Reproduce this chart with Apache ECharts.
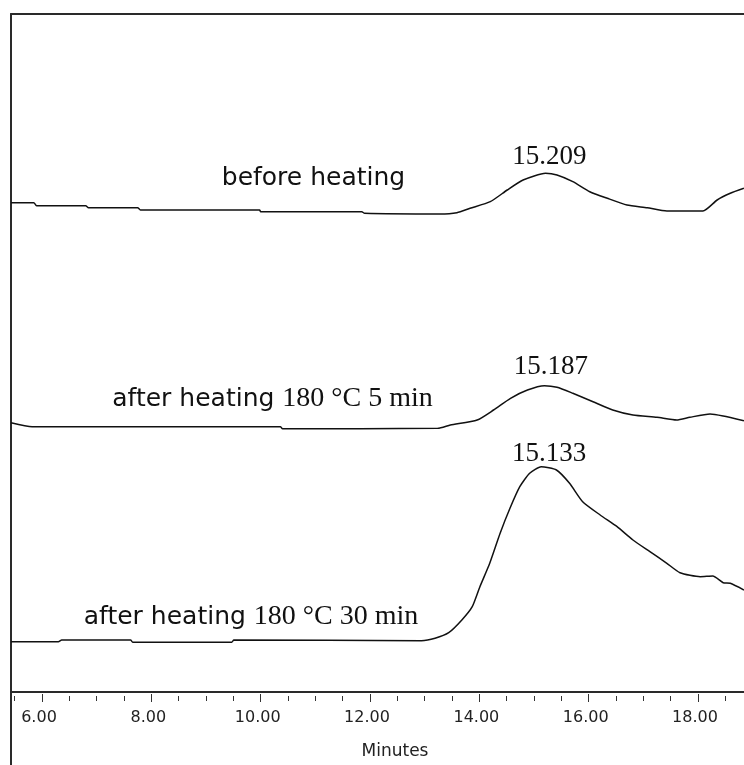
<!DOCTYPE html>
<html>
<head>
<meta charset="utf-8">
<script src="https://cdn.jsdelivr.net/npm/echarts@6/dist/echarts.min.js"></script>
<style>
  html, body { margin: 0; padding: 0; background: #fff; }
  #main { width: 744px; height: 765px; }
</style>
</head>
<body>
<div id="main"></div>
<script>
// retention time window (min)
var xMin = 5.433, xMax = 18.841;
var majorTicks = [6, 8, 10, 12, 14, 16, 18];
var minorTicks = [5.5, 6, 6.5, 7, 7.5, 8, 8.5, 9, 9.5, 10, 10.5, 11, 11.5, 12, 12.5,
                  13, 13.5, 14, 14.5, 15, 15.5, 16, 16.5, 17, 17.5, 18, 18.5];

// before heating
var beforeTime   = [5.433, 5.85, 5.90, 6.80, 6.85, 7.75, 7.80, 9.98, 10.00, 11.85, 11.90, 13.28, 13.59, 13.83, 14.20, 14.51, 14.80, 15.21, 15.42, 15.71, 16.02, 16.34, 16.70, 17.07, 17.43, 18.09, 18.35, 18.59, 18.84];
var beforeSignal = [489.3, 489.3, 486.3, 486.3, 484.3, 484.3, 482.0, 482.0, 480.3, 480.3, 478.7, 478.0, 479.3, 483.7, 490.3, 502.0, 512.0, 518.7, 517.0, 510.3, 500.3, 493.7, 487.0, 484.3, 481.0, 481.0, 492.0, 498.7, 503.7];

// after heating 180 °C 5 min
var heat5Time   = [5.433, 5.82, 10.36, 10.40, 13.24, 13.47, 13.96, 14.26, 14.57, 14.88, 15.19, 15.42, 15.71, 16.08, 16.44, 16.81, 17.25, 17.61, 17.85, 18.22, 18.46, 18.84];
var heat5Signal = [269.3, 265.3, 265.3, 263.3, 263.7, 267.0, 272.0, 282.0, 293.7, 302.0, 306.3, 304.7, 298.7, 290.3, 282.0, 277.0, 274.7, 272.0, 274.7, 278.0, 276.0, 271.3];

// after heating 180 °C 30 min
var heat30Time   = [5.433, 6.30, 6.36, 7.62, 7.66, 9.47, 9.51, 12.94, 13.19, 13.44, 13.68, 13.87, 14.01, 14.19, 14.38, 14.56, 14.74, 14.92, 15.13, 15.41, 15.65, 15.89, 16.21, 16.52, 16.81, 17.12, 17.43, 17.67, 18.04, 18.27, 18.46, 18.59, 18.84];
var heat30Signal = [50.3, 50.3, 52.0, 52.0, 49.7, 49.7, 52.0, 51.3, 53.7, 59.3, 72.0, 85.3, 105.3, 128.7, 158.7, 183.7, 205.3, 218.7, 225.3, 222.0, 208.7, 190.3, 177.0, 165.3, 152.0, 140.3, 128.7, 119.3, 115.3, 116.0, 109.3, 108.7, 102.0];

function pairs(t, v) {
  return t.map(function (x, i) { return [x, v[i]]; });
}

var sans = 'DejaVu Sans';
var serif = 'Liberation Serif';
var inkColor = '#111';
var frameStyle = { color: '#2a2a2a', width: 2 };

function note(coord, text) {
  return { coord: coord, value: 0, label: { formatter: text } };
}

function traceSeries(data, notes) {
  return {
    type: 'line',
    xAxisIndex: 0,
    yAxisIndex: 0,
    data: data,
    symbol: 'none',
    smooth: 0.2,
    lineStyle: { color: inkColor, width: 1.5 },
    markPoint: {
      symbol: 'circle',
      symbolSize: 1,
      itemStyle: { color: 'transparent' },
      label: {
        show: true,
        position: 'inside',
        color: inkColor,
        fontFamily: sans,
        fontSize: 25,
        rich: {
          s: { fontFamily: sans, fontSize: 25, color: inkColor },
          r: { fontFamily: serif, fontSize: 28, color: inkColor },
          p: { fontFamily: serif, fontSize: 27, color: inkColor }
        }
      },
      data: notes
    }
  };
}

var chart = echarts.init(document.getElementById('main'));

var option = {
  animation: false,
  backgroundColor: '#fff',
  grid: [
    { left: 11, right: 0, top: 14, bottom: 0 },
    { left: 11, right: 0, top: 14, bottom: 69 },
    { left: 11, right: 0, top: 14, bottom: 69 }
  ],
  xAxis: [
    {
      gridIndex: 0, type: 'value', min: xMin, max: xMax, position: 'bottom',
      axisLine: { show: true, onZero: true, lineStyle: frameStyle },
      axisTick: { show: false }, axisLabel: { show: false }, splitLine: { show: false }
    },
    {
      gridIndex: 0, type: 'value', min: xMin, max: xMax, position: 'top',
      axisLine: { show: true, onZero: false, lineStyle: frameStyle },
      axisTick: { show: false }, axisLabel: { show: false }, splitLine: { show: false }
    },
    {
      gridIndex: 1, type: 'value', min: xMin, max: xMax, position: 'bottom',
      axisLine: { show: false, onZero: false },
      axisTick: { show: true, customValues: minorTicks, length: 5, lineStyle: { color: '#333', width: 1 } },
      axisLabel: { show: false }, splitLine: { show: false }
    },
    {
      gridIndex: 2, type: 'value', min: xMin, max: xMax, position: 'bottom',
      axisLine: { show: false, onZero: false },
      axisTick: { show: true, customValues: majorTicks, length: 8, lineStyle: { color: '#333', width: 1 } },
      axisLabel: {
        show: true,
        customValues: majorTicks,
        margin: 16,
        color: '#222',
        fontFamily: sans,
        fontSize: 16,
        padding: [0, 6, 0, 0],
        formatter: function (v) { return v.toFixed(2); }
      },
      splitLine: { show: false },
      name: 'Minutes',
      nameLocation: 'middle',
      nameGap: 49,
      nameTextStyle: { color: '#222', fontFamily: sans, fontSize: 17, padding: [0, 0, 0, 35] }
    }
  ],
  yAxis: [
    {
      gridIndex: 0, type: 'value', min: -73, max: 678,
      axisLine: { show: true, onZero: false, lineStyle: frameStyle },
      axisTick: { show: false }, axisLabel: { show: false }, splitLine: { show: false }
    },
    { gridIndex: 1, type: 'value', show: false },
    { gridIndex: 2, type: 'value', show: false }
  ],
  series: [
    traceSeries(pairs(beforeTime, beforeSignal), [
      note([15.283, 535.2], '{p|15.209}'),
      note([10.966, 513.5], '{s|before heating}')
    ]),
    traceSeries(pairs(heat5Time, heat5Signal), [
      note([15.31, 325.2], '{p|15.187}'),
      note([10.216, 293], '{s|after heating} {r|180 °C 5 min}')
    ]),
    traceSeries(pairs(heat30Time, heat30Signal), [
      note([15.275, 238.2], '{p|15.133}'),
      note([9.823, 75], '{s|after heating} {r|180 °C 30 min}')
    ])
  ]
};

chart.setOption(option);
</script>
</body>
</html>
